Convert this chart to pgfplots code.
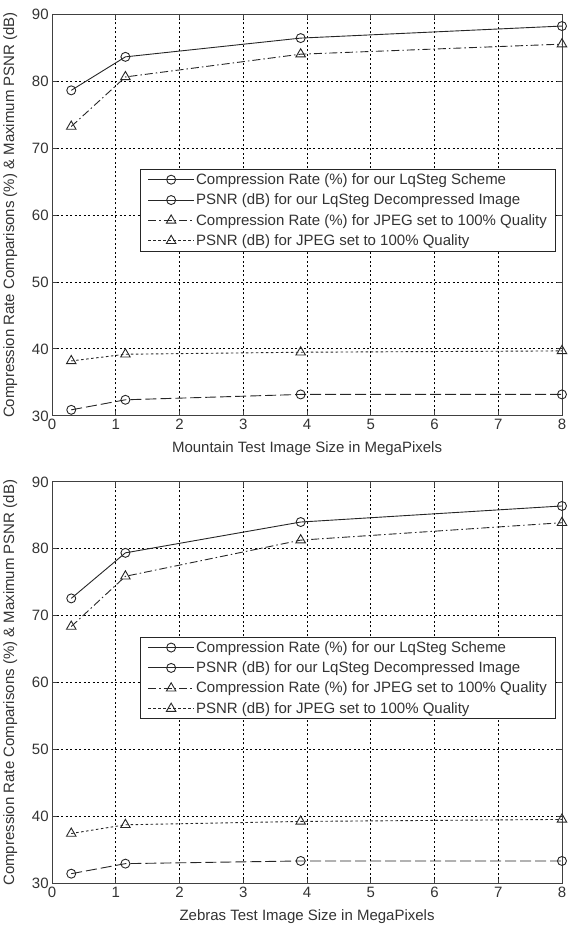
\documentclass[border=0pt]{standalone}
\usepackage{fontspec}
\setmainfont{Liberation Sans}
\usepackage{pgfplots}
\pgfplotsset{compat=1.18}

\newcommand{\fs}{\fontsize{15}{18}\selectfont}

\pgfplotsset{
  lqaxis/.style={
    width=510pt, height=402pt, scale only axis,
    xmin=0, xmax=8, ymin=30, ymax=90,
    xtick={0,1,...,8}, ytick={30,40,...,90},
    grid=major,
    major grid style={black, line width=0.8pt, dash pattern=on 2pt off 2.5pt},
    axis line style={black!75, line width=0.8pt},
    tick align=inside, major tick length=5pt,
    tick style={black!75, line width=0.8pt},
    /pgf/number format/assume math mode=true,
    tick label style={font=\fs, text=black!80},
    label style={font=\fs, text=black!80},
    ylabel={Compression Rate Comparisons (\%) \& Maximum PSNR (dB)},
    ylabel style={at={(axis description cs:-0.082,0.5)}, anchor=center},
    xlabel style={at={(axis description cs:0.5,-0.082)}, anchor=center},
    legend style={at={(axis description cs:0.988,0.614)}, anchor=north east,
      draw=black!85, line width=0.8pt, font=\fs, text=black!80,
      inner xsep=7pt, inner ysep=2.5pt, row sep=5pt,
      nodes={inner sep=1.5pt}},
    legend cell align=left,
    legend image code/.code={
      \draw[mark repeat=2, mark phase=2, #1]
        plot coordinates {(0pt,0pt) (23pt,0pt) (46pt,0pt)};},
  },
  crlq/.style={black!85, line width=0.9pt, dash pattern=on 11pt off 4pt,
    mark=o, mark size=4.5pt, mark options={solid}},
  psnrlq/.style={black!85, line width=0.9pt, solid,
    mark=o, mark size=4.5pt, mark options={solid}},
  crjp/.style={black!85, line width=0.9pt,
    dash pattern=on 8pt off 3pt on 1.5pt off 3pt,
    mark=triangle, mark size=5.5pt, mark options={solid}},
  psnrjp/.style={black!85, line width=0.9pt, dash pattern=on 2.5pt off 2.5pt,
    mark=triangle, mark size=5.5pt, mark options={solid}},
}

\begin{document}
\begin{tikzpicture}
% Mountain
\begin{axis}[lqaxis, name=top, xlabel={Mountain Test Image Size in MegaPixels}]
\addplot[crlq, forget plot] coordinates {(0.3,30.9) (1.15,32.4) (3.9,33.2) (8,33.2)};
\addplot[psnrlq, forget plot] coordinates {(0.3,78.6) (1.15,83.6) (3.9,86.4) (8,88.2)};
\addplot[crjp, forget plot] coordinates {(0.3,73.2) (1.15,80.6) (3.9,84.0) (8,85.5)};
\addplot[psnrjp, forget plot] coordinates {(0.3,38.2) (1.15,39.2) (3.9,39.5) (8,39.7)};
\addlegendimage{psnrlq}
\addlegendentry{Compression Rate (\%) for our LqSteg Scheme}
\addlegendimage{psnrlq}
\addlegendentry{PSNR (dB) for our LqSteg Decompressed Image}
\addlegendimage{crjp}
\addlegendentry{Compression Rate (\%) for JPEG set to 100\% Quality}
\addlegendimage{psnrjp}
\addlegendentry{PSNR (dB) for JPEG set to 100\% Quality}
\end{axis}
% Zebras
\begin{axis}[lqaxis, at={(0pt,-468pt)}, xlabel={Zebras Test Image Size in MegaPixels}]
\addplot[crlq, forget plot] coordinates {(0.3,31.5) (1.15,33.0) (3.9,33.4) (8,33.4)};
\addplot[psnrlq, forget plot] coordinates {(0.3,72.6) (1.15,79.4) (3.9,84.0) (8,86.4)};
\addplot[crjp, forget plot] coordinates {(0.3,68.4) (1.15,75.9) (3.9,81.3) (8,83.9)};
\addplot[psnrjp, forget plot] coordinates {(0.3,37.5) (1.15,38.8) (3.9,39.3) (8,39.6)};
\addlegendimage{psnrlq}
\addlegendentry{Compression Rate (\%) for our LqSteg Scheme}
\addlegendimage{psnrlq}
\addlegendentry{PSNR (dB) for our LqSteg Decompressed Image}
\addlegendimage{crjp}
\addlegendentry{Compression Rate (\%) for JPEG set to 100\% Quality}
\addlegendimage{psnrjp}
\addlegendentry{PSNR (dB) for JPEG set to 100\% Quality}
\end{axis}
% a little white above the top plot, as in the reference
\path (top.north) ++(0pt,14pt);
\end{tikzpicture}
\end{document}
